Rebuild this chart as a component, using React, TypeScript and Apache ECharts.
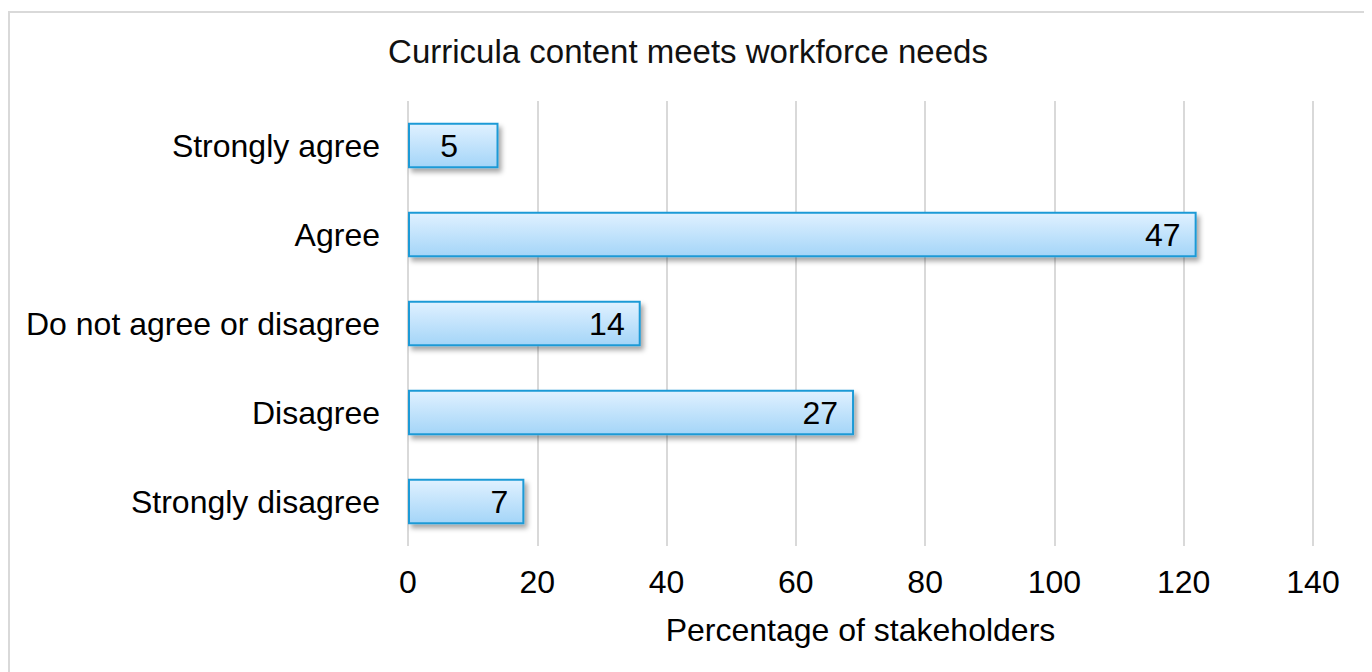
import React, { useEffect, useRef } from "react";
import * as echarts from "echarts";

const categories = ["Strongly agree", "Agree", "Do not agree or disagree", "Disagree", "Strongly disagree"];
const counts = [14, 122, 36, 69, 18];
const percentLabels = [5, 47, 14, 27, 7];
const titleText = "Curricula content meets workforce needs";
const axisName = "Percentage of stakeholders";

export default function App() {
  const ref = useRef<HTMLDivElement>(null);
  useEffect(() => {
    if (!ref.current) return;
    const chart = echarts.init(ref.current, undefined, { renderer: "svg" });
    const font = "'Liberation Sans', Arial, Helvetica, sans-serif";
    chart.setOption({
      animation: false,
      backgroundColor: "#ffffff",
      textStyle: { fontFamily: font },
      title: {
        text: titleText,
        left: 675,
        top: 22,
        textAlign: "center",
        textStyle: { fontSize: 33, fontWeight: "normal", color: "#111", fontFamily: font },
      },
      graphic: [
        {
          type: "rect",
          shape: { x: 1, y: 4, width: 1359, height: 700 },
          style: { fill: "none", stroke: "#d9d9d9", lineWidth: 2 },
          silent: true,
        },
      ],
      grid: { left: 400, right: 59, top: 93, bottom: 126, containLabel: false },
      xAxis: {
        type: "value",
        min: 0,
        max: 140,
        interval: 20,
        axisLine: { show: false },
        axisTick: { show: false },
        splitLine: { show: true, lineStyle: { color: "#d9d9d9", width: 2 } },
        axisLabel: { fontSize: 32, color: "#000", margin: 20, fontFamily: font },
        name: axisName,
        nameLocation: "middle",
        nameGap: 68,
        nameTextStyle: { fontSize: 32, color: "#000", fontFamily: font },
      },
      yAxis: {
        type: "category",
        data: categories,
        inverse: true,
        axisLine: { show: false },
        axisTick: { show: false },
        axisLabel: { fontSize: 32, color: "#000", margin: 28, fontFamily: font },
      },
      series: [
        {
          type: "bar",
          data: counts.map((v, i) =>
            i === 0 ? { value: v, label: { position: "inside", offset: [-4, 0] } } : { value: v }
          ),
          barCategoryGap: "49%",
          itemStyle: {
            color: new echarts.graphic.LinearGradient(0, 0, 0, 1, [
              { offset: 0, color: "#e0f1ff" },
              { offset: 1, color: "#a4d5f8" },
            ]),
            borderColor: "#1e9ad6",
            borderWidth: 2,
            shadowColor: "rgba(0,0,0,0.35)",
            shadowBlur: 5,
            shadowOffsetX: 3,
            shadowOffsetY: 4,
          },
          label: {
            show: true,
            position: "insideRight",
            distance: 16,
            fontSize: 32,
            color: "#000",
            fontFamily: font,
            formatter: (p: any) => String(percentLabels[p.dataIndex]),
          },
        },
      ],
    });
    return () => chart.dispose();
  }, []);
  return <div ref={ref} style={{ width: 1364, height: 664 }} />;
}
